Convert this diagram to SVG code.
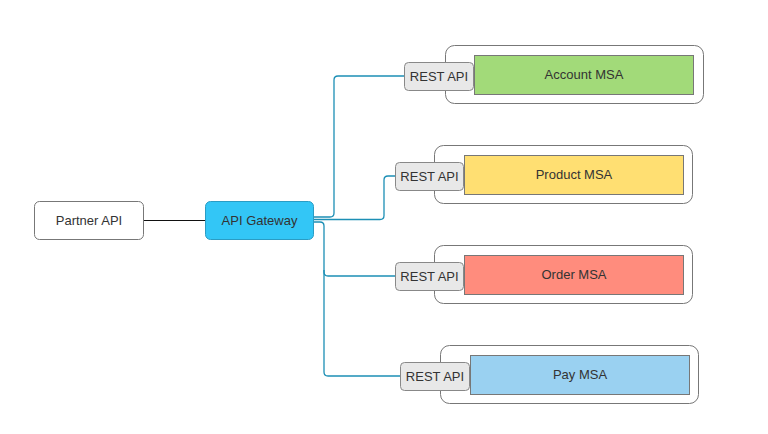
<svg xmlns="http://www.w3.org/2000/svg" width="768" height="434" viewBox="0 0 768 434">
<style>
text{font-family:"Liberation Sans",Arial,sans-serif;font-size:13px;fill:#333;text-anchor:middle;dominant-baseline:central}
.outer{fill:#fff;stroke:#777;stroke-width:1}
.rest{fill:#e8e8e8;stroke:#888;stroke-width:1}
.msa{stroke:#777;stroke-width:1}
.conn{fill:none;stroke:#1c8fb5;stroke-width:1.3}
</style>
<rect width="768" height="434" fill="#fff"/>
<g id="connectors">
<line x1="143" y1="220.5" x2="205" y2="220.5" stroke="#111" stroke-width="1"/>
<path class="conn" d="M314,217 H330 Q334,217 334,213 V80 Q334,76 338,76 H405"/>
<path class="conn" d="M314,219.5 H380 Q384,219.5 384,215.5 V180 Q384,176 388,176 H395"/>
<path class="conn" d="M314,222 H320 Q324,222 324,226 V272 Q324,276 328,276 H395"/>
<path class="conn" d="M324,270 V372 Q324,376 328,376 H401"/>
</g>
<g id="partner">
<rect x="34.5" y="201.5" width="109" height="38" rx="5" fill="#fff" stroke="#777"/>
<text x="89" y="220">Partner API</text>
</g>
<g id="gateway">
<rect x="205.5" y="201.5" width="108" height="38" rx="5" fill="#33c6f6" stroke="#2a9cc4"/>
<text x="259.5" y="220">API Gateway</text>
</g>
<g id="account">
<rect class="outer" x="445.5" y="45.5" width="258" height="58" rx="9"/>
<rect class="msa" x="474.5" y="55.5" width="219" height="39" fill="#a2da79"/>
<rect class="rest" x="404.5" y="62.5" width="69" height="28" rx="4"/>
<text x="439" y="76.5">REST API</text>
<text x="584" y="74.5">Account MSA</text>
</g>
<g id="product">
<rect class="outer" x="434.5" y="145.5" width="258" height="58" rx="9"/>
<rect class="msa" x="464.5" y="155.5" width="219" height="39" fill="#ffdf72"/>
<rect class="rest" x="395.5" y="162.5" width="68" height="28" rx="4"/>
<text x="429.5" y="176.5">REST API</text>
<text x="574" y="174.5">Product MSA</text>
</g>
<g id="order">
<rect class="outer" x="434.5" y="245.5" width="258" height="58" rx="9"/>
<rect class="msa" x="464.5" y="255.5" width="219" height="39" fill="#ff8c7d"/>
<rect class="rest" x="395.5" y="262.5" width="68" height="28" rx="4"/>
<text x="429.5" y="276.5">REST API</text>
<text x="574" y="274.5">Order MSA</text>
</g>
<g id="pay">
<rect class="outer" x="440.5" y="345.5" width="258" height="58" rx="9"/>
<rect class="msa" x="470.5" y="355.5" width="219" height="39" fill="#9ad1f1"/>
<rect class="rest" x="400.5" y="362.5" width="69" height="28" rx="4"/>
<text x="435" y="376.5">REST API</text>
<text x="580" y="374.5">Pay MSA</text>
</g>
</svg>
